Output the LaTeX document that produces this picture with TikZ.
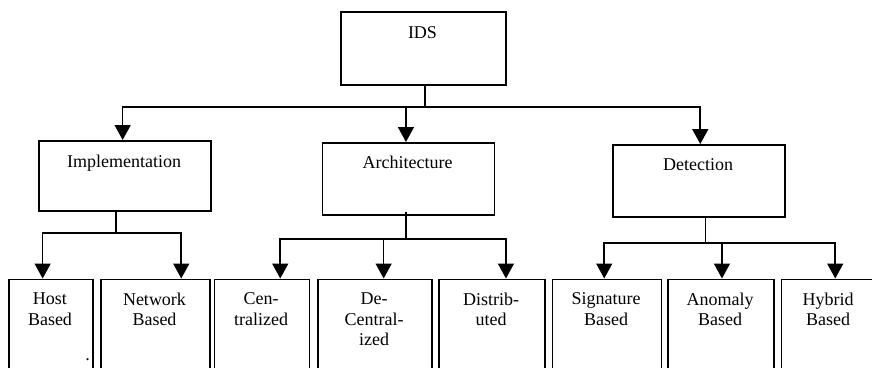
\documentclass[tikz,border=0pt]{standalone}
\usepackage{fontspec}
\setmainfont{Liberation Serif}
\usetikzlibrary{arrows.meta}
\begin{document}
\begin{tikzpicture}[x=1pt,y=-1pt,
  box/.style={draw, line width=1.9pt, inner sep=0pt, anchor=north west},
  txt/.style={font=\fontsize{18}{20.5}\selectfont, inner sep=0pt, align=center},
  conn/.style={line width=1.6pt},
  arr/.style={conn, -{Triangle[width=16pt,length=15pt]}}]
\useasboundingbox (0,0) rectangle (872,367);
\clip (0,0) rectangle (872,367);
% top level boxes
\node[box, minimum width=165pt, minimum height=73pt] (ids) at (340,11) {};
\node[box, minimum width=172pt, minimum height=70pt] (impl) at (38,140) {};
\node[box, minimum width=172pt, minimum height=72pt] (arch) at (321.5,142) {};
\node[box, minimum width=172pt, minimum height=72pt] (det) at (612,144) {};
% bottom boxes (open at the bottom edge)
\node[box, minimum width=84pt, minimum height=120pt] (host) at (8,278.5) {};
\node[box, minimum width=109pt, minimum height=120pt] (net) at (100,278.5) {};
\node[box, minimum width=95pt, minimum height=120pt] (cen) at (213.5,278.5) {};
\node[box, minimum width=114pt, minimum height=120pt] (dec) at (317,278.5) {};
\node[box, minimum width=106pt, minimum height=120pt] (dis) at (438,278.5) {};
\node[box, minimum width=109pt, minimum height=120pt] (sig) at (551.5,278.5) {};
\node[box, minimum width=106pt, minimum height=120pt] (ano) at (667,278.5) {};
\node[box, minimum width=95pt, minimum height=120pt] (hyb) at (780.5,278.5) {};
% texts
\node[txt, anchor=base] (tids) at (422.5,38.3) {IDS};
\node[txt, anchor=base] (timpl) at (124,167.5) {Implementation};
\node[txt, anchor=base] (tarch) at (407.5,168.3) {Architecture};
\node[txt, anchor=base] (tdet) at (698,170.5) {Detection};
\node[txt, anchor=north] (thost) at (50,292.8) {Host\\Based};
\node[txt, anchor=north] (tnet) at (154.5,292.8) {Network\\Based};
\node[txt, anchor=north] (tcen) at (261,292.8) {Cen-\\tralized};
\node[txt, anchor=north] (tdec) at (374,292.8) {De-\\Central-\\ized};
\node[txt, anchor=north] (tdis) at (491,292.8) {Distrib-\\uted};
\node[txt, anchor=north] (tsig) at (606,292.8) {Signature\\Based};
\node[txt, anchor=north] (tano) at (720,292.8) {Anomaly\\Based};
\node[txt, anchor=north] (thyb) at (828,292.8) {Hybrid\\Based};
\node[txt, anchor=base] (dot) at (87.5,360.5) {.};
% connectors from IDS
\coordinate (ja) at (425,107);
\draw[conn] (ids.south -| ja) -- (ja);
\draw[arr] (ja) -| ([xshift=-2.3pt]impl.north);
\draw[arr] (ja) -| ([xshift=-2.5pt]arch.north);
\draw[arr] (ja) -| ([xshift=1.3pt]det.north);
% Implementation
\coordinate (jb) at (116,233);
\draw[conn] (impl.south -| jb) -- (jb);
\draw[arr] (jb) -| ([xshift=-8.3pt]host.north);
\draw[arr] (jb) -| ([xshift=25.8pt]net.north);
% Architecture
\coordinate (jc) at (406,239);
\draw[conn] ([yshift=4pt]arch.south -| jc) -- (jc);
\draw[arr] (jc) -| ([xshift=18.3pt]cen.north);
\draw[arr] (jc) -| ([xshift=8.7pt]dec.north);
\draw[arr] (jc) -| ([xshift=14pt]dis.north);
% Detection
\coordinate (jd) at (705.3,243);
\draw[conn] (det.south -| jd) -- (jd);
\draw[arr] (jd) -| ([xshift=-2.7pt]sig.north);
\draw[arr] (jd) -| ([xshift=1pt]ano.north);
\draw[arr] (jd) -| ([xshift=6.3pt]hyb.north);
\end{tikzpicture}
\end{document}
